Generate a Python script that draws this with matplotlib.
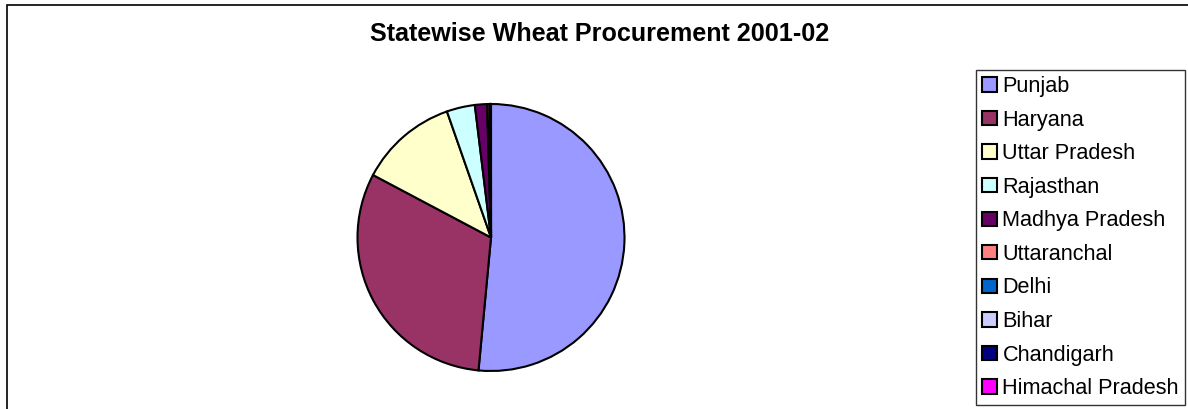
import matplotlib.pyplot as plt
from matplotlib.patches import Patch, Rectangle

# 各邦小麦收购量 (lakh tonnes)
states = ['Punjab', 'Haryana', 'Uttar Pradesh', 'Rajasthan', 'Madhya Pradesh',
          'Uttaranchal', 'Delhi', 'Bihar', 'Chandigarh', 'Himachal Pradesh']
procurement = [105.6, 64.1, 24.4, 7.0, 3.0, 0.6, 0.2, 0.05, 0.1, 0.02]
colors = ['#9999FF', '#993366', '#FFFFCC', '#CCFFFF', '#660066',
          '#FF8080', '#0066CC', '#CCCCFF', '#000080', '#FF00FF']
title = 'Statewise Wheat Procurement 2001-02'

W, H = 1188, 409
fig = plt.figure(figsize=(W / 100, H / 100), dpi=100)
plt.rcParams['font.family'] = ['Liberation Sans', 'DejaVu Sans']

# 外框 (only left and top edges visible)
fig.patches.append(Rectangle((7 / W, -0.5), 2.0, 1.5 - 5 / H, transform=fig.transFigure,
                             fill=False, edgecolor='black', linewidth=1.2))

# 饼图
cx, cy, r = 491, 237.5, 133.5
ax = fig.add_axes([(cx - r) / W, (H - cy - r) / H, 2 * r / W, 2 * r / H])
ax.pie(procurement, colors=colors, startangle=90, counterclock=False,
       wedgeprops=dict(edgecolor='black', linewidth=1.5))
ax.set_aspect('equal')
ax.set_xlim(-1, 1)
ax.set_ylim(-1, 1)
ax.axis('off')

fig.text(600 / W, 1 - 34 / H, title, ha='center', va='center',
         fontsize=18.1, fontweight='bold')

# 图例
handles = [Patch(facecolor=c, edgecolor='black', linewidth=1.5) for c in colors]
leg = fig.legend(handles, states, loc='upper left',
                 bbox_to_anchor=(976 / W, 1 - 70 / H), fontsize=15.6,
                 handlelength=0.68, handleheight=0.63, handletextpad=0.26,
                 labelspacing=0.58, borderpad=0.28, borderaxespad=0,
                 frameon=True, fancybox=False)
leg.get_frame().set_edgecolor('black')
leg.get_frame().set_linewidth(1.0)

fig.savefig('out.png', dpi=100)
